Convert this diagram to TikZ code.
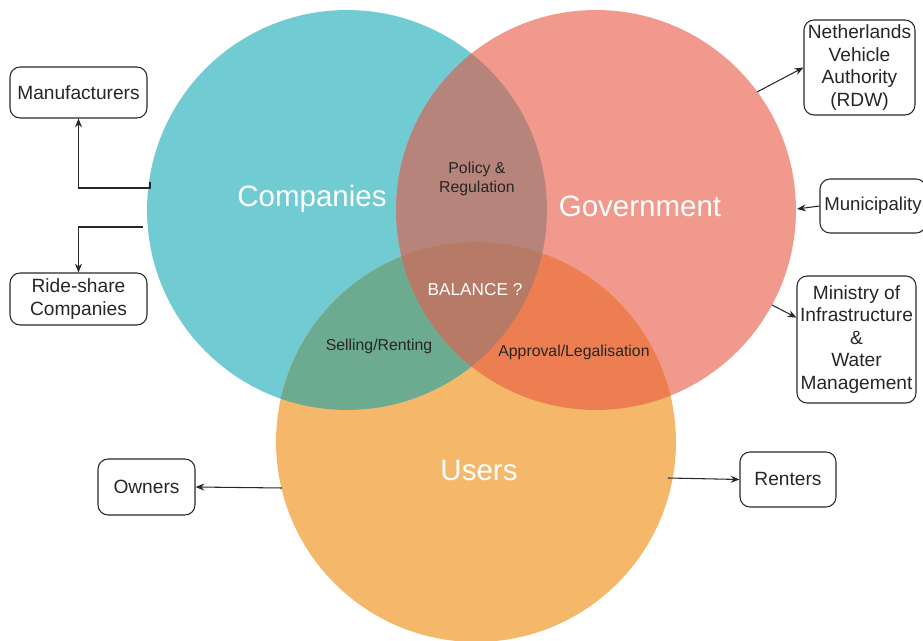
\documentclass[tikz,border=0pt]{standalone}
\usepackage{fontspec}
\setmainfont{Liberation Sans}
\usetikzlibrary{arrows.meta}

\definecolor{compcol}{RGB}{113,203,210}
\definecolor{govcol}{RGB}{240,153,140}
\definecolor{usercol}{RGB}{245,184,107}
\definecolor{cgcol}{RGB}{182,132,122}
\definecolor{cucol}{RGB}{108,171,143}
\definecolor{gucol}{RGB}{237,126,82}
\definecolor{allcol}{RGB}{182,122,102}
\definecolor{linecol}{RGB}{40,40,40}

\def\compcirc{(347,210) circle (4cm)}
\def\govcirc{(596,210) circle (4cm)}
\def\usercirc{(476,442) circle (4cm)}

\begin{document}
\begin{tikzpicture}[x=0.02cm,y=-0.02cm,
	box/.style={draw=linecol,line width=0.6pt,rounded corners=0.2cm,align=center,
		inner sep=0pt,text=black!85,font=\fontsize{10.9}{12.8}\selectfont},
	big/.style={text=white,font=\fontsize{16.8}{20}\selectfont},
	small/.style={text=black!85,align=center,font=\fontsize{9}{11}\selectfont},
	arr/.style={draw=linecol,line width=0.6pt,-{Stealth[length=5pt,width=4pt]}}]
			\useasboundingbox (0,0) rectangle (923,641);

			% the three sets
			\fill[compcol] \compcirc;
			\fill[govcol] \govcirc;
			\fill[usercol] \usercirc;

			\begin{scope}
				\clip \compcirc;
				\fill[cgcol] \govcirc;
				\fill[cucol] \usercirc;
			\end{scope}
			\begin{scope}
				\clip \govcirc;
				\fill[gucol] \usercirc;
			\end{scope}
			\begin{scope}
				\clip \compcirc;
				\clip \govcirc;
				\fill[allcol] \usercirc;
			\end{scope}

			% labels in the circles
			\node[big] (companies) at (312,199) {Companies};
			\node[big] (government) at (640,206) {Government};
			\node[big] (users) at (479,470) {Users};
			\node[small] (policy) at (477,179) {Policy \&\\Regulation};
			\node[small,text=white,font=\fontsize{9.8}{11}\selectfont] (balance) at (475,290) {BALANCE ?};
			\node[small] (selling) at (379,346) {Selling/Renting};
			\node[small] (approval) at (574,352) {Approval/Legalisation};

			% outside parties
			\node[box,minimum width=2.74cm,minimum height=1.02cm] (manu) at (78.5,92.5) {Manufacturers};
			\node[box,minimum width=2.74cm,minimum height=1.04cm] (ride) at (78.5,299) {Ride-share\\Companies};
			\node[box,minimum width=1.94cm,minimum height=1.12cm] (owners) at (146.5,487) {Owners};
			\node[box,minimum width=1.92cm,minimum height=1.1cm] (renters) at (788,479.5) {Renters};
			\node[box,minimum width=2.22cm,minimum height=1.9cm] (rdw) at (859.5,67.5) {Netherlands\\Vehicle\\Authority\\(RDW)};
			\node[box,minimum width=2.12cm,minimum height=1.08cm,font=\fontsize{10.6}{12.8}\selectfont] (muni) at (873,206) {Municipality};
			\node[box,minimum width=2.38cm,minimum height=2.54cm] (mini) at (856.5,339.5) {Ministry of\\Infrastructure\\\&\\Water\\Management};

			\coordinate (compA) at (150,182);
			\coordinate (compB) at (143,227);
			\coordinate (userA) at (282,488);
			\coordinate (userB) at (668,478);
			\coordinate (govA) at (757,92);
			\coordinate (govB) at (797,209);
			\coordinate (govC) at (772,305);

			\draw[arr] (compA) -- ++(0,6) -| (manu.south);
			\draw[arr] (compB) -| (ride.north);
			\draw[arr] (userA) -- (owners.east);
			\draw[arr] (userB) -- (renters.west);
			\draw[arr] (govA) -- (rdw.west);
			\draw[arr] (muni.west) -- (govB);
			\draw[arr] (govC) -- (mini.160);
		\end{tikzpicture}
\end{document}
